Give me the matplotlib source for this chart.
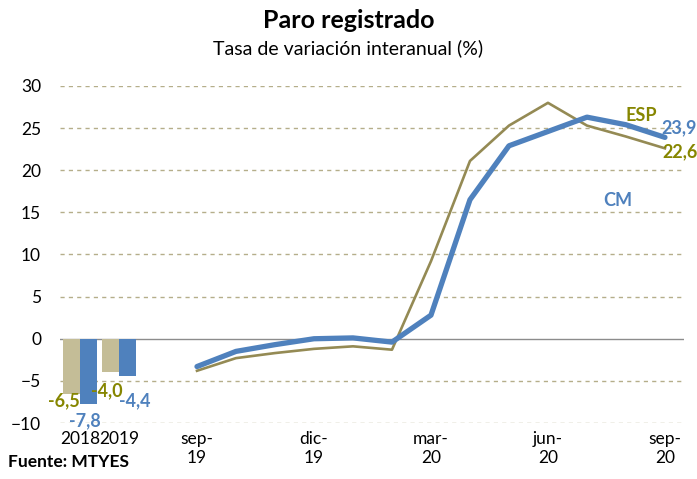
import matplotlib
matplotlib.use('Agg')
import matplotlib.pyplot as plt
import numpy as np

plt.rcParams['font.family'] = ['Lato', 'DejaVu Sans']

# Datos
anios = ['2018', '2019']
esp_anual = [-6.5, -4.0]
cm_anual = [-7.8, -4.4]

meses = ['sep-19', 'oct-19', 'nov-19', 'dic-19', 'ene-20', 'feb-20', 'mar-20',
         'abr-20', 'may-20', 'jun-20', 'jul-20', 'ago-20', 'sep-20']
cm_mensual = [-3.3, -1.5, -0.7, 0.0, 0.1, -0.4, 2.8, 16.5, 22.9, 24.6, 26.3, 25.4, 23.9]
esp_mensual = [-3.8, -2.3, -1.7, -1.2, -0.9, -1.3, 9.2, 21.1, 25.3, 28.0, 25.3, 24.0, 22.6]

etiquetas_x = ['2018', '2019', 'sep-\n19', 'dic-\n19', 'mar-\n20', 'jun-\n20', 'sep-\n20']

azul = '#4F81BD'
oliva_linea = '#948A54'
oliva_barra = '#C4BD97'
oliva_texto = '#868600'

fig = plt.figure(figsize=(6.97, 4.79), dpi=100)
ax = fig.add_axes([0.0868, 0.1169, 0.8952, 0.7036])

# Barras anuales
x_bar = np.arange(len(anios))
w = 0.43
ax.bar(x_bar - w / 2, esp_anual, w, color=oliva_barra, zorder=2)
ax.bar(x_bar + w / 2, cm_anual, w, color=azul, zorder=2)

# Lineas mensuales (dejando un hueco tras 2019)
x_mes = np.arange(len(meses)) + 3
ax.plot(x_mes, esp_mensual, color=oliva_linea, lw=1.9, zorder=3)
ax.plot(x_mes, cm_mensual, color=azul, lw=3.8, zorder=4, solid_capstyle='round')

ax.set_xlim(-0.5, x_mes[-1] + 0.5)
ax.set_ylim(-10, 30)
ax.set_yticks(range(-10, 31, 5))
for yv in range(-10, 31, 5):
    if yv != 0:
        ax.axhline(yv, color='#B5AE8A', lw=1, ls=(0, (3, 3)), zorder=1)
ax.axhline(0, color='#8C8C8C', lw=1, zorder=1)

ax.set_xticks([0, 1, 3, 6, 9, 12, 15])
ax.set_xticklabels(etiquetas_x)
ax.tick_params(axis='both', length=0, labelsize=12.5, colors='black', pad=6)
ax.tick_params(axis='y', pad=14)
for s in ax.spines.values():
    s.set_visible(False)

# Etiquetas de barras
fmt = lambda v: f'{v:.1f}'.replace('.', ',')
etq = dict(fontsize=13, fontweight='bold', ha='center', va='center')
ax.text(-0.41, esp_anual[0] - 0.85, fmt(esp_anual[0]), color=oliva_texto, **etq)
ax.text(0.13, cm_anual[0] - 1.93, fmt(cm_anual[0]), color=azul, **etq)
ax.text(0.69, esp_anual[1] - 2.17, fmt(esp_anual[1]), color=oliva_texto, **etq)
ax.text(1.41, cm_anual[1] - 2.95, fmt(cm_anual[1]), color=azul, **etq)

# Etiquetas de lineas
ax.text(x_mes[-1] + 0.35, cm_mensual[-1] + 1.1, fmt(cm_mensual[-1]), color=azul, **etq)
ax.text(x_mes[-1] + 0.4, esp_mensual[-1] - 0.4, fmt(esp_mensual[-1]), color=oliva_texto, **etq)
ax.text(x_mes[-1] - 0.6, 26.45, 'ESP', color=oliva_texto, **etq)
ax.text(x_mes[-1] - 1.2, 16.4, 'CM', color=azul, **etq)

fig.text(0.5, 0.957, 'Paro registrado', ha='center', va='center',
         fontsize=18, fontweight='bold')
fig.text(0.5, 0.899, 'Tasa de variación interanual (%)', ha='center', va='center',
         fontsize=14)
fig.text(0.012, 0.018, 'Fuente: MTYES', ha='left', va='bottom',
         fontsize=12.5, fontweight='bold')

fig.savefig('out.png', dpi=100)
